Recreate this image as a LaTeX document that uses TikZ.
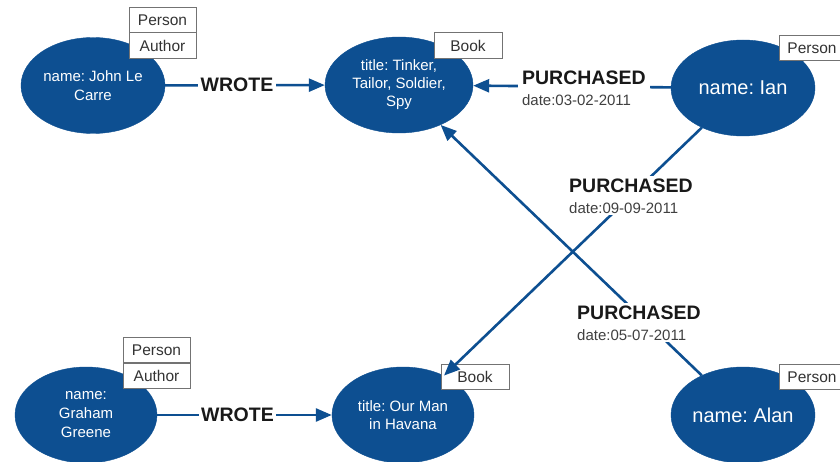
\documentclass[tikz,border=0pt]{standalone}
\usepackage{fontspec}
\setmainfont{Liberation Sans}
\usetikzlibrary{shapes.geometric,arrows.meta}
\definecolor{nblue}{RGB}{13,79,145}
\begin{document}
\frenchspacing
\begin{tikzpicture}[x=1pt,y=-1pt,
  ent/.style={ellipse,fill=nblue,draw=nblue,text=white,minimum width=144pt,
    minimum height=96pt,inner sep=0pt,align=center,font=\fontsize{15}{19}\selectfont},
  bigent/.style={ent,font=\fontsize{20}{24}\selectfont},
  tagbox/.style={draw=black!55,line width=0.8pt,fill=white,minimum width=67pt,
    minimum height=25.5pt,inner sep=0pt,font=\fontsize{15.5}{18}\selectfont,text=black!80},
  rel/.style={draw=nblue,line width=2.6pt,-{Triangle[length=16pt,width=13pt]}},
  wlbl/.style={fill=white,inner xsep=2.5pt,inner ysep=3pt,text=black!90,
    font=\bfseries\fontsize{19.5}{22}\selectfont},
  plbl/.style={fill=white,align=left,inner xsep=4pt,inner ysep=2pt,text=black!75,
    font=\fontsize{15}{21}\selectfont},
]
\clip (0,0) rectangle (840,462);
\fill[white] (0,0) rectangle (840,462);

% entities
\node[ent] (john) at (93,85.5) {name: John Le\\Carre};
\node[ent,minimum width=148pt,font=\fontsize{15}{18}\selectfont] (tinker) at (399,85) {title: Tinker,\\Tailor, Soldier,\\Spy};
\node[bigent] (ian) at (743,88) {name: Ian};
\node[ent,minimum width=142pt] (graham) at (86,415) {name:\\Graham\\Greene};
\node[ent,minimum width=142pt,font=\fontsize{15}{18}\selectfont] (ourman) at (403,415) {title: Our Man\\in Havana};
\node[bigent] (alan) at (743,415) {name: Alan};

% tags
\node[tagbox] (t1p) at (162.5,20) {Person};
\node[tagbox] (t1a) at (162.5,45.5) {Author};
\node[tagbox,minimum width=68pt] (t2b) at (468,45.5) {Book};
\node[tagbox,minimum width=66pt] (t3p) at (812,48) {Person};
\node[tagbox] (t4p) at (156.5,350) {Person};
\node[tagbox] (t4a) at (156.5,376) {Author};
\node[tagbox,minimum width=68pt] (t5b) at (475,377) {Book};
\node[tagbox,minimum width=66pt] (t6p) at (812,377) {Person};

% relationships
\draw[rel] (john) -- node[wlbl,pos=0.45] (w1) {WROTE} (tinker);
\draw[rel] (graham) -- node[wlbl,pos=0.46] (w2) {WROTE} (ourman);
\draw[rel] (ian) -- node[plbl,pos=0.44,yshift=-2pt] (p1)
  {{\bfseries\fontsize{19.5}{21}\selectfont\color{black!90}PURCHASED}\\date:03-02-2011} (tinker);
\draw[rel] (ian) -- node[plbl,pos=0.275] (p2)
  {{\bfseries\fontsize{19.5}{21}\selectfont\color{black!90}PURCHASED}\\date:09-09-2011} (ourman);
\draw[rel] (alan) -- node[plbl,pos=0.21,xshift=-8pt] (p3)
  {{\bfseries\fontsize{19.5}{21}\selectfont\color{black!90}PURCHASED}\\date:05-07-2011} (tinker);
\end{tikzpicture}
\end{document}
